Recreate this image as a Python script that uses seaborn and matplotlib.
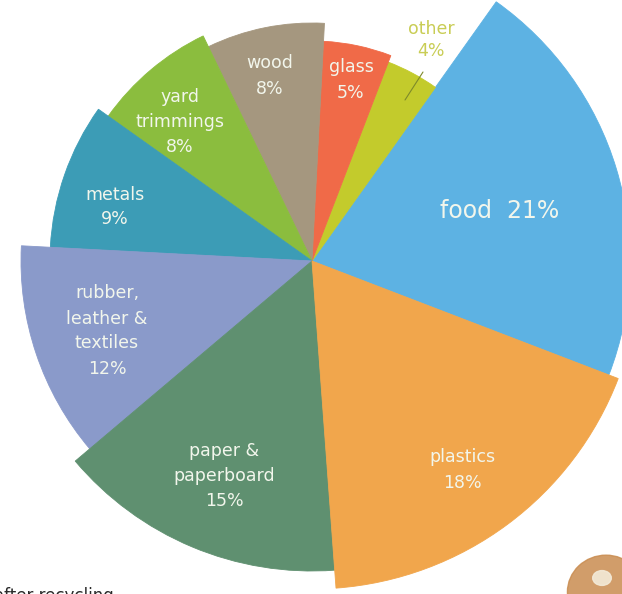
import numpy as np
import matplotlib
matplotlib.use("Agg")
import matplotlib.pyplot as plt
import seaborn as sns
from matplotlib.patches import Circle, Ellipse

# ---- data (counter-clockwise order, starting at food) ----
categories = ["food", "other", "glass", "wood", "yard trimmings", "metals",
              "rubber, leather & textiles", "paper & paperboard", "plastics"]
percent = [21, 4, 5, 8, 8, 9, 12, 15, 18]
# relative outer radius of every slice (in pixels of the reference)
radius = [318, 213, 220, 238, 250, 262, 291, 310, 328]
labels = ["food  21%", "other\n4%", "glass\n5%", "wood\n8%", "yard\ntrimmings\n8%",
          "metals\n9%", "rubber,\nleather &\ntextiles\n12%",
          "paper &\npaperboard\n15%", "plastics\n18%"]
colors = ["#5DB2E3", "#C3CB2C", "#F06A48", "#A5977F", "#8BBD3E",
          "#3C9CB6", "#8A9ACA", "#5F9070", "#F1A64C"]

sns.set_theme(style="white")
plt.rcParams["font.family"] = ["DejaVu Sans"]

W, H = 622, 594
fig = plt.figure(figsize=(W / 100, H / 100), dpi=100)
fig.patch.set_facecolor("white")

cx, cy = 312, 261          # pie centre in pixels (from top)
R = 340                    # axes radius in pixels
ax = fig.add_axes([(cx - R) / W, (H - cy - R) / H, 2 * R / W, 2 * R / H],
                  projection="polar")
ax.set_facecolor("none")

start = np.deg2rad(180 - 3 - sum(percent[:6]) * 3.6)
widths = np.deg2rad(np.array(percent) * 3.6)
lefts = start + np.concatenate([[0], np.cumsum(widths)[:-1]])
ax.bar(lefts, radius, width=widths, bottom=0, align="edge",
       color=colors, edgecolor=colors, linewidth=0.6)
ax.set_ylim(0, R)
ax.set_xticks([])
ax.set_yticks([])
ax.grid(False)
ax.spines["polar"].set_visible(False)

# ---- labels (pixel positions of the reference) ----
label_pos = {
    "food": (500, 211, 17),
    "other": (431, 40, 12.5),
    "glass": (351, 80, 12.5),
    "wood": (270, 76, 12.5),
    "yard trimmings": (180, 122, 12.5),
    "metals": (115, 207, 12.5),
    "rubber, leather & textiles": (107, 331, 12.5),
    "paper & paperboard": (224, 476, 12.5),
    "plastics": (462, 470, 12.5),
}
for cat, lab in zip(categories, labels):
    x, y, fs = label_pos[cat]
    col = "#C9CD55" if cat == "other" else "#F2F6EC"
    fig.text(x / W, 1 - y / H, lab, ha="center", va="center", fontsize=fs,
             color=col, linespacing=1.5 if cat != "other" else 1.25)

# leader line for "other"
fig.add_artist(plt.Line2D([423 / W, 405 / W], [1 - 72 / H, 1 - 100 / H],
                          color="#7E8A2A", lw=0.8))

# cut-off note at bottom left
fig.text(-6 / W, 1 - 587 / H, "after recycling", ha="left", va="top",
         fontsize=12, color="#2A2A2A")

# decorative badge bottom right
fig.add_artist(Circle((606 / W, 1 - 592 / H), 0.062, transform=fig.transFigure,
                      color="#C98C50", alpha=0.85))
fig.add_artist(Ellipse((602 / W, 1 - 578 / H), 0.03, 0.025, transform=fig.transFigure,
                       color="#F3EAD8", alpha=0.9))

fig.savefig("out.png", dpi=100, facecolor="white")
